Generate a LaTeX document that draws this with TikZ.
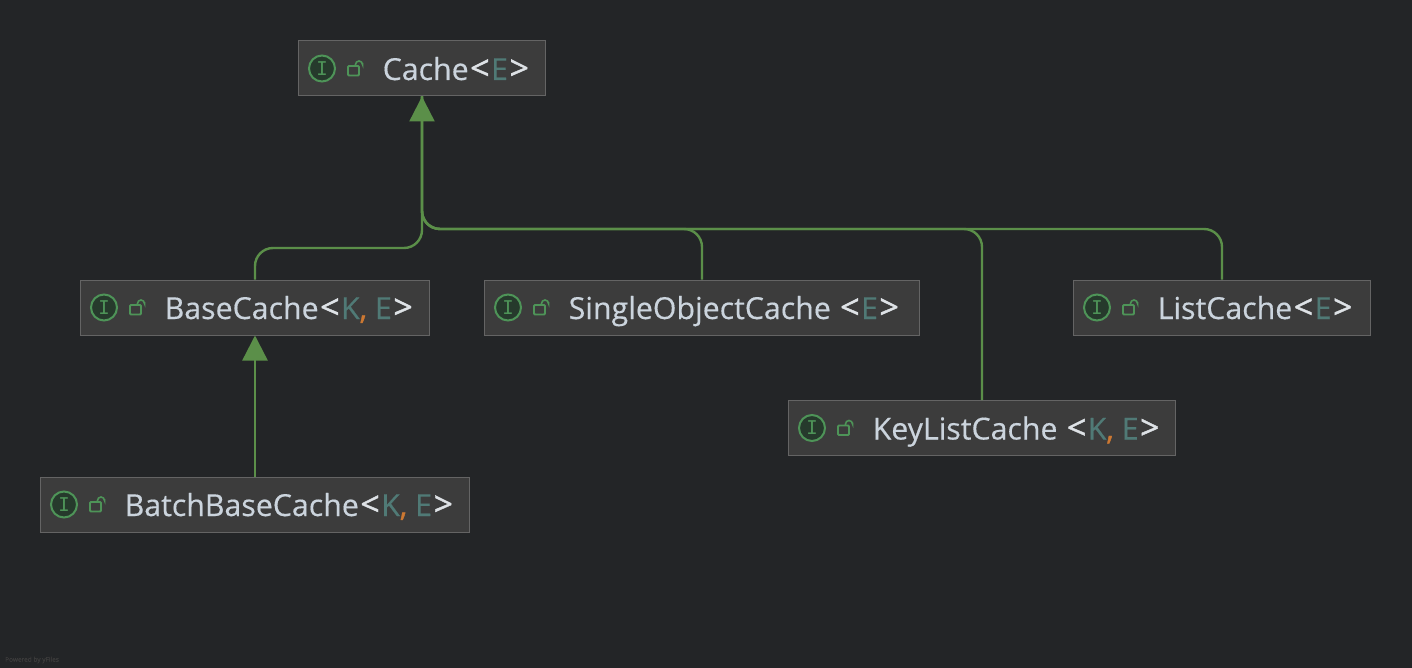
\documentclass[tikz,border=0pt]{standalone}
\usepackage{fontspec}
\setmainfont[FakeBold=0.4]{Open Sans}
\newfontfamily\bracketfont[FakeBold=1.2]{Open Sans}
\newfontfamily\iconfont{DejaVu Sans Mono}
\usetikzlibrary{arrows.meta,positioning}
\definecolor{ideback}{RGB}{35,37,39}
\definecolor{idebox}{RGB}{60,60,60}
\definecolor{ideborder}{RGB}{100,100,100}
\definecolor{idegreen}{RGB}{91,143,73}
\definecolor{idetext}{RGB}{203,212,221}
\definecolor{idebracket}{RGB}{222,226,230}
\definecolor{ideparam}{RGB}{80,122,118}
\definecolor{idecomma}{RGB}{204,120,50}
\definecolor{ideicon}{RGB}{78,148,88}
\definecolor{ideiconback}{RGB}{38,58,44}
\newcommand{\tparam}[1]{\textcolor{ideparam}{#1}}
\newcommand{\tsep}{\textcolor{idecomma}{\bracketfont ,}}
\newcommand{\topen}{\kern1.5pt\textcolor{idebracket}{\bracketfont\fontsize{34}{36}\selectfont <}\kern1.5pt}
\newcommand{\tclose}{\kern1.5pt\textcolor{idebracket}{\bracketfont\fontsize{34}{36}\selectfont >}}
\tikzset{
  classbox/.style={draw=ideborder,fill=idebox,line width=1pt,minimum height=55pt,inner sep=0pt},
  classlabel/.style={anchor=base west,inner sep=0pt,text=idetext,font=\fontsize{30.3}{36}\selectfont},
  ifaceicon/.style={circle,draw=ideicon,fill=ideiconback,line width=2pt,minimum size=26pt,inner sep=0pt,text=ideicon,font=\iconfont\fontsize{19}{20}\selectfont},
  extends/.style={draw=idegreen,line width=2.4pt,rounded corners=18pt},
  extendstip/.style={-{Triangle[length=25pt,width=25pt]},draw=idegreen,line width=2.4pt},
}
\begin{document}
\begin{tikzpicture}[x=1pt,y=-1pt]
  \fill[ideback] (0,0) rectangle (1412,668);
  \useasboundingbox (0,0) rectangle (1412,668);
  % Boxes
  \node[classbox,minimum width=349pt] (basecache) at (255,307.5) {};
  \node[classbox,minimum width=247pt] (cache) at (422,68.5) {};
  \node[classbox,minimum width=435pt] (singlecache) at (702,307.5) {};
  \node[classbox,minimum width=297pt] (listcache) at (1222,307.5) {};
  \node[classbox,minimum width=387pt] (keycache) at (982,428) {};
  \node[classbox,minimum width=429pt] (batchcache) at (255,504.5) {};
  % Labels
  \node[classlabel] (cachelabel) at ([shift={(84.5pt,-11.5pt)}]cache.west) {Cache\topen\tparam{E}\tclose};
  \node[classlabel] (baselabel) at ([shift={(84.5pt,-11.5pt)}]basecache.west) {BaseCache\topen\tparam{K}\tsep{} \tparam{E}\tclose};
  \node[classlabel] (singlelabel) at ([shift={(84.5pt,-11.5pt)}]singlecache.west) {SingleObjectCache \topen\tparam{E}\tclose};
  \node[classlabel] (listlabel) at ([shift={(84.5pt,-11.5pt)}]listcache.west) {ListCache\topen\tparam{E}\tclose};
  \node[classlabel] (keylabel) at ([shift={(84.5pt,-11.5pt)}]keycache.west) {KeyListCache \topen\tparam{K}\tsep{} \tparam{E}\tclose};
  \node[classlabel] (batchlabel) at ([shift={(84.5pt,-11.5pt)}]batchcache.west) {BatchBaseCache\topen\tparam{K}\tsep{} \tparam{E}\tclose};
  % Icons
  \foreach \b in {cache,basecache,singlecache,listcache,keycache,batchcache}{
    \node[ifaceicon] (icon\b) at ([xshift=24pt]\b.west) {I};
    \draw[ideicon,line width=1.8pt,rounded corners=1pt] ([shift={(50pt,-7pt)}]\b.west) rectangle ([shift={(61pt,2.5pt)}]\b.west);
    \draw[ideicon,line width=1.6pt] ([shift={(57.5pt,2.5pt)}]\b.west) -- ([shift={(57.5pt,4pt)}]\b.west) arc (180:0:3.5pt) -- ++(0,-1.5);
  }
  % Connectors
  \coordinate (basebus) at (0,248);
  \coordinate (mainbus) at (0,229);
  \draw[extends] (basecache.north) -- (basecache.north |- basebus) -- (cache.south |- basebus) -- (cache.south);
  \draw[extends] (singlecache.north) -- (singlecache.north |- mainbus) -- (cache.south |- mainbus) -- (cache.south);
  \draw[extends] (keycache.north) -- (keycache.north |- mainbus) -- (cache.south |- mainbus) -- (cache.south);
  \draw[extends] (listcache.north) -- (listcache.north |- mainbus) -- (cache.south |- mainbus) -- (cache.south);
  \draw[extendstip] (cache.south |- mainbus) ++(0,-40) -- (cache.south);
  \draw[extendstip] (batchcache.north) -- (basecache.south);
  % Watermark
  \node[anchor=west,inner sep=0pt,text=idebox,font=\fontsize{6.5}{8}\selectfont] (poweredby) at (5,660) {Powered by yFiles};
\end{tikzpicture}
\end{document}
